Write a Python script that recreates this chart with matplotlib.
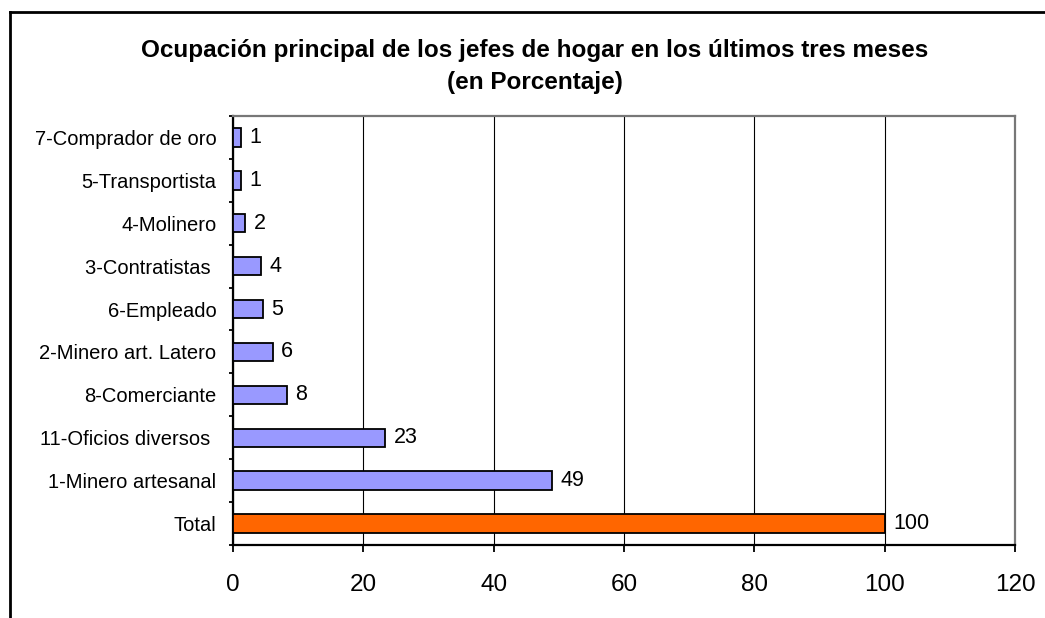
import matplotlib
matplotlib.use("Agg")
import matplotlib.pyplot as plt
from matplotlib.lines import Line2D
import numpy as np

plt.rcParams['font.family'] = ['Liberation Sans', 'DejaVu Sans']

# Data (top to bottom as displayed)
categories = ["7-Comprador de oro", "5-Transportista", "4-Molinero", "3-Contratistas ",
              "6-Empleado", "2-Minero art. Latero", "8-Comerciante", "11-Oficios diversos ",
              "1-Minero artesanal", "Total"]
values = [1.2, 1.2, 1.9, 4.3, 4.6, 6.1, 8.3, 23.4, 49.0, 100.0]
value_labels = ["1", "1", "2", "4", "5", "6", "8", "23", "49", "100"]
bar_colors = ["#9999FF"] * 9 + ["#FF6600"]
x_ticks = [0, 20, 40, 60, 80, 100, 120]

W, H = 1045, 618
fig = plt.figure(figsize=(W / 100, H / 100), dpi=100)
fig.patch.set_facecolor("white")

# axes position in pixels
left, right, top, bottom = 233, 1015, 116, 545
ax = fig.add_axes([left / W, 1 - bottom / H, (right - left) / W, (bottom - top) / H])

n = len(categories)
ypos = np.arange(n)[::-1]  # first category at top
ax.barh(ypos, values, height=0.43, color=bar_colors, edgecolor="black", linewidth=1.3, zorder=3)

for y, v, lab in zip(ypos, values, value_labels):
    ax.annotate(lab, xy=(v, y), xytext=(6, 0), textcoords="offset points",
                ha="left", va="center", fontsize=15.5, color="black")

ax.set_xlim(0, 120)
ax.set_ylim(-0.5, n - 0.5)
ax.set_xticks(x_ticks)
ax.set_xticklabels([str(t) for t in x_ticks], fontsize=17.5)

# y tick labels at centres, tick marks at boundaries
ax.set_yticks(ypos)
ax.set_yticklabels(categories, fontsize=14.5)
ax.tick_params(axis="y", which="major", length=0, pad=12)
ax.set_yticks(np.arange(-0.5, n, 1.0), minor=True)
ax.tick_params(axis="y", which="minor", length=3, width=1.3, direction="out", color="black")
ax.tick_params(axis="x", which="major", length=5, width=1.3, direction="out", pad=16, color="black")

# gridlines
ax.grid(axis="x", color="black", linewidth=0.8, zorder=0)
ax.set_axisbelow(True)

for s in ["left", "bottom"]:
    ax.spines[s].set_color("black")
    ax.spines[s].set_linewidth(1.6)
for s in ["top", "right"]:
    ax.spines[s].set_color("#777777")
    ax.spines[s].set_linewidth(1.6)

# title
fig.text(535 / W, 1 - 50 / H, "Ocupación principal de los jefes de hogar en los últimos tres meses",
         ha="center", va="center", fontsize=17.5, fontweight="bold")
fig.text(535 / W, 1 - 82 / H, "(en Porcentaje)",
         ha="center", va="center", fontsize=17.5, fontweight="bold")

# outer frame (extends beyond right and bottom edges)
fig.add_artist(Line2D([10 / W, 10 / W], [0, 1 - 12 / H], transform=fig.transFigure,
                      color="black", linewidth=2))
fig.add_artist(Line2D([10 / W, 1.0], [1 - 12 / H, 1 - 12 / H], transform=fig.transFigure,
                      color="black", linewidth=2))

fig.savefig("out.png", dpi=100)
